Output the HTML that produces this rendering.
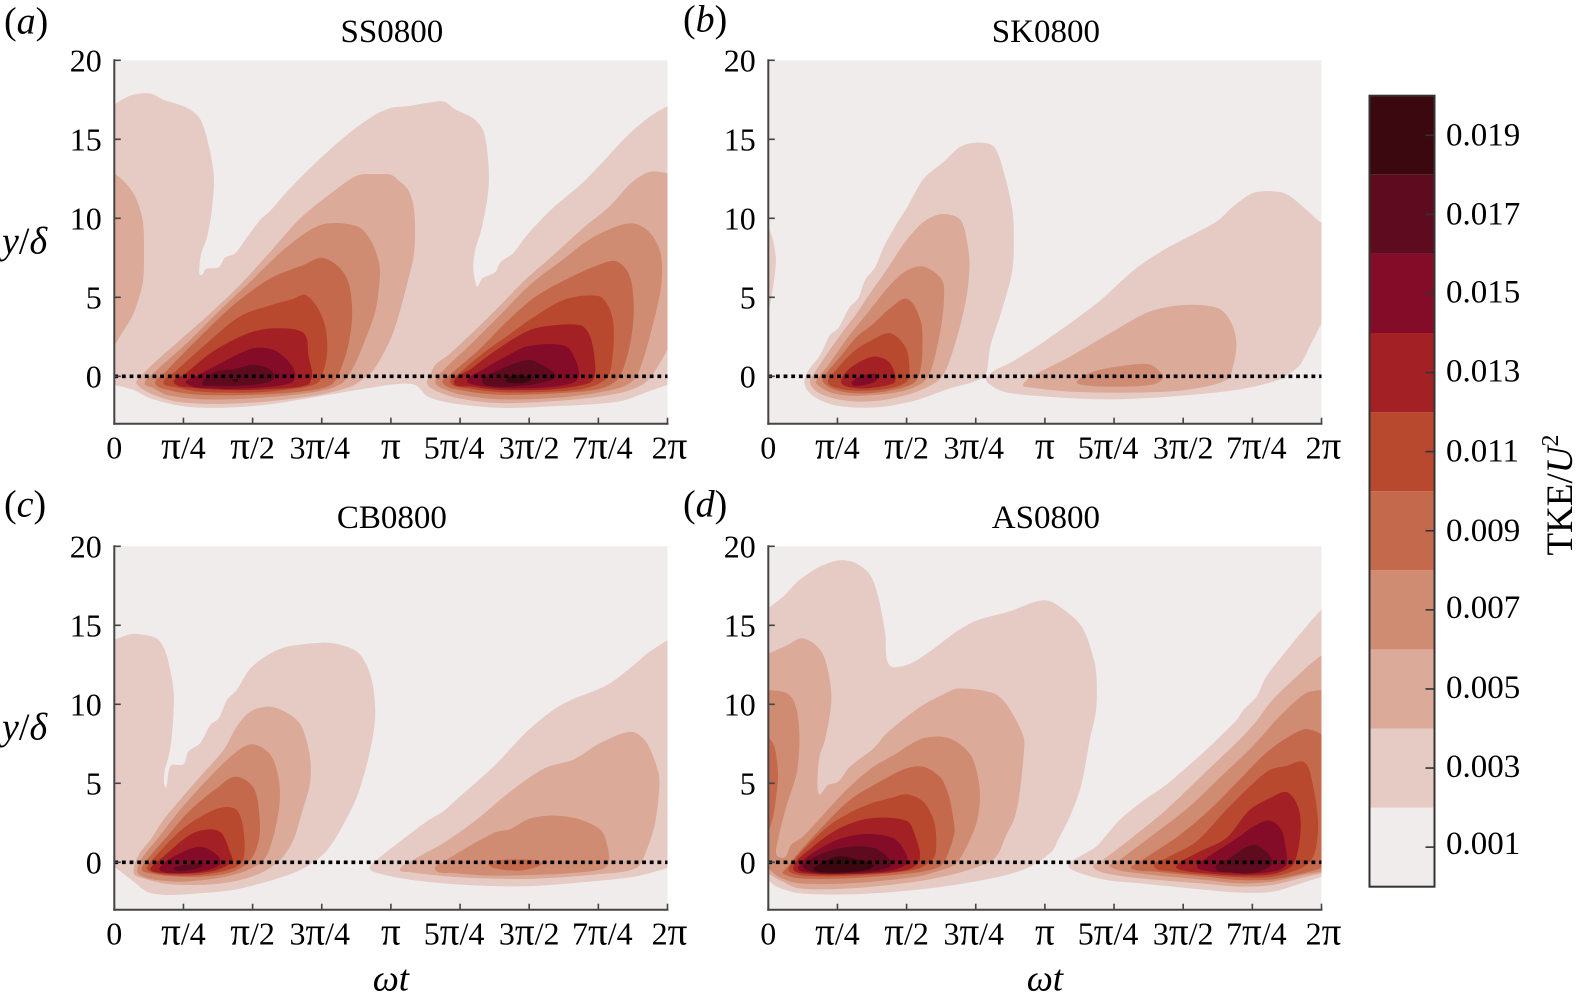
<!DOCTYPE html>
<html lang="en">
<head>
<meta charset="utf-8">
<title>TKE contour panels</title>
<style>
html,body{margin:0;padding:0;background:#fff;}
svg{display:block;font-family:"Liberation Serif",serif;fill:#000;}
</style>
</head>
<body>
<svg id="figure" xmlns="http://www.w3.org/2000/svg" width="1583" height="1003" viewBox="0 0 1583 1003"></svg>
<script>
// x values are in units of pi/4 (0..8); y values are y/delta. Each contour: [level, x,y, x,y, ...]
const xTickValues = [0,1,2,3,4,5,6,7,8];
const xTickLabels = ["0","π/4","π/2","3π/4","π","5π/4","3π/2","7π/4","2π"];
const yTickValues = [0,5,10,15,20];
const levelValues = [0.001,0.003,0.005,0.007,0.009,0.011,0.013,0.015,0.017,0.019];
const levelLabels = ["0.001","0.003","0.005","0.007","0.009","0.011","0.013","0.015","0.017","0.019"];
const levelColors = ["#f0ecec","#e6cbc5","#dbaa99","#cf8c72","#c5694d","#b8482e","#a32024","#840c28","#5e0b1f","#3c0810"];

const contoursSS = [
[1, 0,17.2,.25,17.8,.52,17.9,.71,17.5,1.05,17,1.24,16.3,1.36,14.7,1.44,12.6,1.41,10.5,1.34,8.8,1.26,7.8,1.23,6.9,1.25,6.4,1.33,6.8,1.51,6.9,1.6,7.5,1.75,7.8,1.92,8.8,2.11,9.9,2.26,10.5,2.5,11.7,2.79,13,3.03,14,3.37,15.3,3.75,16.5,4.01,17,4.25,17.1,4.52,17.3,4.76,17.4,4.93,16.9,5.2,16.3,5.34,15.5,5.41,13.5,5.41,11.8,5.32,9.5,5.22,8,5.19,6.9,5.22,6,5.25,5.7,5.32,6.2,5.51,6.6,5.58,7.2,5.77,7.8,5.89,8.5,6.04,9.3,6.33,10.6,6.76,12.2,7.05,13.5,7.39,15.1,7.73,16.4,8,17.1,8,-.55,7.78,-.87,7.29,-1.6,6.33,-1.9,5.61,-2,4.88,-1.7,4.54,-1.3,4.35,-.55,4.06,-.5,3.66,-.76,2.93,-1.3,2.2,-1.8,1.48,-2,1,-1.9,.52,-1.4,.28,-.87,0,-.55],
[2, 0,12.85,.15,12.3,.3,11.4,.41,9.9,.43,7.6,.41,5.9,.28,4,.08,2.5,0,1.9],
[2, .32,-.44,.4,.08,.57,.82,.95,2.3,1.39,4,1.82,5.8,2.26,7.9,2.69,10,3.17,11.7,3.51,12.7,3.8,12.8,4,12.75,4.11,12.4,4.25,11.8,4.33,10.7,4.35,9,4.33,7.6,4.25,6.1,4.16,4.6,4.01,2.5,3.75,.4,3.58,-.23,3.42,-.65,2.93,-1.2,2.2,-1.6,1.48,-1.75,.9,-1.6,.52,-1.08],
[3, .44,-.44,.59,.3,1.05,2.1,1.58,4.4,1.97,6,2.5,8.2,3,9.6,3.51,9.5,3.71,8.6,3.83,7.15,3.84,6.3,3.78,4.2,3.61,2.1,3.46,.6,3.29,-.44,2.93,-.97,1.97,-1.4,1.24,-1.45,.76,-1.18,.57,-.76],
[4, .59,-.44,.73,.23,1.19,2.3,1.72,4.5,2.26,6.2,2.74,7.05,3,7.5,3.25,6.9,3.39,5.9,3.44,4,3.39,2.1,3.27,.4,3.13,-.55,2.69,-.97,1.97,-1.18,1.24,-1.18,.81,-.9],
[5, .71,-.4,.88,.3,1.34,2.1,1.82,3.8,2.26,4.5,2.59,4.9,2.76,5.15,2.93,4.4,3.05,3.15,3.08,1.67,3.03,.4,2.93,-.44,2.45,-.87,1.97,-1.03,1.24,-.97,.9,-.7],
[6, .86,-.4,1.02,.15,1.39,1.46,1.72,2.3,2.01,2.83,2.35,3.04,2.74,2.72,2.81,1.25,2.86,.08,2.79,-.55,2.21,-.82,1.72,-.87,1.14,-.72],
[7, 1.04,-.44,1.22,.08,1.58,.93,2.01,1.77,2.3,1.67,2.52,.93,2.62,.08,2.55,-.44,1.97,-.76,1.43,-.76],
[8, 1.27,-.44,1.48,.3,1.72,.44,2.01,.72,2.26,.4,2.31,-.13,2.16,-.44,1.82,-.6,1.43,-.6],
[9, 1.72,-.2,1.78,-.2,1.78,-.35,1.72,-.35],
[2, 4.52,-.44,4.57,.08,4.64,.72,4.83,1.35,5.17,2.72,5.56,4.4,5.94,6.1,6.33,7.6,6.81,9.5,7.15,10.7,7.49,12.3,7.75,12.95,8,12.85,8,1.67,7.78,.08,7.63,-.55,7.29,-1.08,6.57,-1.5,5.61,-1.7,4.98,-1.4,4.64,-.9],
[3, 4.64,-.34,4.76,.4,5.12,1.88,5.51,3.57,6.04,5.9,6.48,7.36,6.86,8.63,7.25,9.47,7.51,9.68,7.73,9.16,7.87,8.2,7.92,7.15,7.9,5.46,7.78,3.14,7.63,.82,7.51,-.23,7.29,-.76,6.57,-1.29,5.61,-1.46,5.03,-1.18,4.74,-.76],
[4, 4.75,-.44,4.88,.19,5.27,1.67,5.7,3.57,6.09,5.04,6.52,6.1,7,7.05,7.24,7.3,7.41,6.73,7.49,5.68,7.51,3.78,7.44,1.67,7.29,-.13,7.05,-.76,6.57,-1.03,5.61,-1.18,5.08,-.93],
[5, 4.86,-.4,5,.23,5.36,1.56,5.7,2.6,6.04,3.67,6.52,4.87,7,5.08,7.15,4.4,7.22,3.14,7.2,1.03,7.12,-.13,6.81,-.76,6.33,-.97,5.61,-1.01,5.12,-.76],
[6, 4.91,-.4,5.17,.5,5.56,1.77,5.99,2.89,6.28,3.19,6.74,3.23,6.86,2.72,6.93,1.67,6.95,.08,6.86,-.44,6.33,-.82,5.61,-.87,5.17,-.65],
[7, 5.1,-.27,5.36,.5,5.7,1.35,5.99,1.92,6.52,1.92,6.67,1.03,6.72,.08,6.64,-.4,6.23,-.7,5.61,-.76,5.22,-.55],
[8, 5.32,-.34,5.51,.3,5.99,1.03,6.23,.61,6.38,.08,6.33,-.23,5.99,-.55,5.56,-.65],
[9, 5.66,-.23,5.85,.08,6.02,-.13,5.99,-.34,5.8,-.44]
];

const contoursSK = [
[1, 0,9.5,.07,8.6,.11,7.35,.07,5.67,0,4],
[1, .52,-.34,.57,.3,.75,1.35,.89,2.6,1.01,3.04,1.18,4.4,1.3,4.94,1.4,6.1,1.55,6.94,1.67,8.2,1.86,9.68,2,10.63,2.25,12.53,2.54,13.59,2.78,14.54,3.02,14.79,3.26,14.54,3.41,12.85,3.53,10.53,3.55,9.05,3.53,6.73,3.38,4.2,3.21,1.88,3.14,.08,2.97,-.34,2.63,-.76,2.15,-1.5,1.67,-1.92,1.28,-1.98,.94,-1.81,.7,-1.39,.56,-.86],
[2, .6,-.34,.68,.3,.89,1.67,1.06,2.72,1.28,3.99,1.47,5.25,1.71,6.73,1.98,8.52,2.25,9.79,2.51,10.27,2.77,9.94,2.87,8.63,2.91,6.94,2.85,4.62,2.66,1.46,2.49,-.13,2.15,-.97,1.67,-1.5,1.28,-1.6,.94,-1.39,.7,-.97],
[3, .69,-.34,.87,.72,1.14,2.4,1.47,4.2,1.74,5.68,2,6.69,2.25,6.94,2.51,6.1,2.54,4.83,2.49,2.93,2.37,.61,2.25,-.34,1.91,-.97,1.28,-1.24,.94,-1.08,.76,-.7],
[4, .79,-.34,.84,.19,1.04,1.24,1.28,2.51,1.5,3.25,1.76,4.3,2.01,4.89,2.2,3.57,2.23,2.09,2.2,.4,2.1,-.44,1.67,-.97,1.28,-1.08,.97,-.86],
[5, .86,-.4,.94,.19,1.23,1.56,1.5,2.3,1.76,2.72,1.98,1.88,2.04,.61,2,-.34,1.67,-.82,1.28,-.91,1.01,-.76],
[6, 1.05,-.34,1.18,.51,1.51,1.24,1.74,.93,1.84,-.02,1.81,-.44,1.43,-.76,1.14,-.65],
[7, 1.21,-.34,1.38,.08,1.59,.08,1.54,-.34,1.38,-.55,1.23,-.59],
[1, 3.15,-.13,3.28,.4,3.49,.82,4.02,2.3,4.75,4.62,5.32,6.84,5.76,8.1,6.48,9.79,6.72,10.74,7,11.58,7.25,11.73,7.49,11.54,7.73,10.74,7.97,9.79,8,9.75,8,3.35,7.83,1.88,7.69,.72,7.54,.19,7.39,-.23,6.77,-.86,5.8,-1.29,4.84,-1.46,3.88,-1.24,3.4,-.97,3.18,-.44],
[2, 3.68,-.55,3.85,.08,4.36,1.24,4.94,2.72,5.49,4.05,6,4.51,6.51,4.3,6.7,3.35,6.77,2.09,6.72,.61,6.63,-.23,6.05,-.86,5.32,-1.03,4.36,-.97,3.78,-.7],
[3, 4.46,-.34,4.7,.3,5.04,.61,5.49,.78,5.64,.4,5.71,-.13,5.52,-.55,4.94,-.65,4.55,-.55]
];

const contoursCB = [
[1, 0,14.07,.25,14.45,.52,14.32,.64,14.07,.73,13.44,.81,12.17,.86,10.7,.85,9,.82,7.53,.78,6.58,.73,5.84,.72,5,.75,4.75,.78,5.63,.83,6.16,1,6.2,1.07,7,1.24,7.53,1.39,8.69,1.51,9.11,1.63,10.27,1.77,10.91,1.97,12.28,2.26,13.23,2.5,13.65,3,13.9,3.22,13.82,3.51,13.33,3.66,12.38,3.75,10.91,3.77,9,3.68,6.69,3.51,4.16,3.27,2.05,3.08,.78,2.88,0,2.64,-.59,2.21,-1.22,1.72,-1.75,1.24,-1.96,.76,-2.07,.47,-1.86,.28,-1.22,0,-.27],
[2, .28,-.7,.35,.46,.52,1.41,.71,2.68,.95,3.95,1.24,5.42,1.58,7.11,1.77,8.59,1.97,9.54,2.26,9.85,2.55,9.32,2.71,8.59,2.83,6.69,2.83,5,2.71,3.1,2.59,1.41,2.4,.15,2.11,-.7,1.72,-1.22,1.24,-1.43,.76,-1.37,.42,-1.01],
[3, .33,-.59,.4,.25,.61,1.41,.95,3.31,1.34,5.21,1.75,6.94,2,7.47,2.26,6.79,2.38,5.21,2.39,3.73,2.3,1.62,2.16,.15,1.87,-.59,1.48,-1.01,1,-1.22,.61,-1.12,.42,-.91],
[4, .4,-.49,.47,.15,.76,1.62,1.1,3.31,1.48,4.68,1.75,5.42,2.01,4.75,2.1,2.89,2.09,1.41,1.97,.15,1.72,-.59,1.24,-.91,.76,-.86,.52,-.7],
[5, .47,-.38,.57,.25,1,2.15,1.48,3.38,1.75,3.38,1.86,2.26,1.87,.25,1.72,-.38,1.24,-.8,.76,-.8,.52,-.59],
[6, .52,-.38,.71,.36,1.14,1.84,1.51,1.98,1.68,.57,1.7,.04,1.48,-.49,1.14,-.7,.76,-.7,.56,-.59],
[7, .65,-.38,.81,.25,1.24,.99,1.51,.36,1.52,-.17,1.24,-.59,.84,-.7,.69,-.59],
[8, .85,-.38,1,-.17,1.24,-.1,1.27,-.27,1.1,-.49,.93,-.55],
[1, 3.69,-.36,3.8,.17,4.04,1.01,4.52,2.6,4.76,3.23,5,4.18,5.49,6.08,5.97,8.29,6.35,9.66,6.62,10.3,7.12,11.2,7.49,12.4,7.7,13.2,8,14.05,8,-.36,7.55,-.89,6.93,-1.2,5.97,-1.52,5,-1.41,4.28,-1.1,3.8,-.68],
[2, 4.13,-.46,4.33,.17,4.76,1.22,5.24,2.7,5.73,4.49,6.23,5.97,6.64,6.5,7.03,7.55,7.48,8.25,7.7,7.55,7.87,5.65,7.88,4.6,7.82,2.49,7.7,.8,7.55,-.36,6.93,-.78,5.97,-1.05,5,-.95,4.28,-.63],
[3, 4.64,-.46,4.81,.17,5.49,1.86,5.73,2.11,5.99,2.74,6.26,2.95,6.5,2.91,6.74,2.7,7.03,2.07,7.12,1.22,7.15,-.04,7.03,-.46,6.45,-.72,5.49,-.84,4.91,-.68],
[4, 5.41,-.08,5.53,.13,5.97,.17,6.18,-.04,6.06,-.36,5.82,-.53,5.49,-.36]
];

const contoursAS = [
[1, 0,16.08,.21,16.8,.45,17.87,.74,18.7,1.01,19.1,1.25,18.97,1.47,18.2,1.59,16.8,1.69,14.5,1.75,12.49,2,12.49,2.29,13.2,2.72,14.6,3.01,15.3,3.5,15.9,4,16.58,4.31,15.87,4.55,14.8,4.72,12.6,4.75,11.33,4.74,9.64,4.65,7.74,4.52,4.79,4.36,2.89,4.19,1.41,4.1,.68,3.74,-.38,3.11,-1.12,2.14,-1.75,1.18,-2.03,.45,-1.96,.12,-1.54,0,-1.12],
[2, 0,13.2,.26,13.7,.5,14.18,.77,13.33,.89,11.54,.91,10.06,.82,7.74,.74,6.69,.71,5.2,.72,4.47,.75,4.3,.86,4.89,1.01,5.1,1.18,6.05,1.52,7.2,1.71,8.16,2,9.2,2.24,9.96,2.51,10.59,2.75,11,3.26,10.7,3.45,9.96,3.69,7.95,3.69,6.69,3.62,3.95,3.55,2.68,3.43,1.62,3.33,.57,3.21,.04,2.72,-.7,2.14,-1.22,1.18,-1.65,.45,-1.65,.16,-1.12,0,-.7],
[3, 0,10.9,.24,10.76,.36,10.27,.43,9.2,.45,7.53,.41,5.63,.26,3.52,.14,1.41,.12,.46,.24,.32,.33,1.1,.5,1.62,.99,3.95,1.23,5,1.52,6.05,1.86,6.9,2,7.32,2.24,7.85,2.51,7.95,2.72,7.64,2.94,6.69,3.04,5.21,3.06,3.95,3.01,2.47,2.87,1,2.72,-.06,2.58,-.38,2.14,-.91,1.18,-1.33,.45,-1.33,.16,-.95,0,-.38],
[4, 0,7.95,.09,7.32,.14,5.63,.12,4.37,.07,2.89,0,1.84],
[4, .26,-.38,.41,.46,.74,2.05,1.18,3.95,1.57,5,2,5.95,2.24,6.05,2.48,5.42,2.6,4.37,2.68,2.68,2.69,1.84,2.58,.36,2.48,-.27,2.14,-.65,1.18,-1.01,.45,-1.01,.21,-.7],
[5, .29,-.38,.53,.89,.89,2.36,1.18,3.14,1.49,3.73,1.76,4.05,2,4.3,2.24,3.84,2.39,2.68,2.43,1.41,2.39,.25,2.14,-.44,1.18,-.86,.55,-.86,.33,-.65],
[6, .36,-.38,.62,.89,1.03,2.15,1.47,2.78,2,2.62,2.12,1.73,2.19,.15,2,-.49,1.18,-.76,.6,-.74],
[7, .43,-.38,.6,.46,.99,1.41,1.4,1.79,1.81,1.52,2,.46,1.98,-.17,1.66,-.59,.94,-.74,.55,-.63],
[8, .5,-.17,.79,.57,1.18,.99,1.54,.89,1.76,.15,1.76,-.27,1.42,-.59,.79,-.7,.55,-.49],
[9, .65,-.38,.99,.36,1.28,.19,1.52,-.17,1.42,-.49,.99,-.65,.7,-.59],
[1, 4.34,-.17,4.5,.36,4.74,.99,4.89,1.73,5.08,2.68,5.37,3.73,5.75,4.89,5.95,5.63,6.33,7.11,6.77,9,6.87,9.64,7.06,10.49,7.2,11.75,7.54,13.65,7.82,15.13,8,16,8,-.91,7.78,-1.22,7.29,-1.86,6.81,-1.92,6.33,-1.75,5.37,-1.33,4.89,-1.12,4.45,-.59],
[2, 4.7,-.27,4.84,.15,5.37,1.94,5.75,3.31,6.33,5.74,6.81,7.74,7.05,8.9,7.29,10.27,7.77,12.28,8,13.1,8,-.7,7.78,-.91,7.29,-1.43,6.81,-1.54,6.33,-1.37,5.37,-1.01,4.89,-.7],
[3, 4.94,-.27,5.08,.15,5.56,1.73,6.09,3.52,6.57,5.53,7,7.32,7.39,9.22,7.77,10.7,8,10.9,8,-.6,7.73,-.8,7.29,-1.22,6.81,-1.33,6.33,-1.12,5.37,-.7],
[4, 5.25,-.38,5.37,.04,5.95,1.73,6.43,3.52,6.81,5.21,7.25,7.11,7.75,8.42,8,8.1,8,-.38,7.73,-.7,7.29,-1.08,6.81,-1.12,6.33,-.91,5.6,-.59],
[5, 5.58,-.27,5.75,.25,6.19,1.31,6.62,3.31,6.96,4.79,7.25,5.84,7.49,6.1,7.75,6.33,7.87,5,7.95,2.47,7.9,.57,7.75,-.27,7.29,-.91,6.81,-.95,6.33,-.8,5.85,-.59],
[6, 5.9,-.27,6.19,.57,6.62,1.52,6.96,3.31,7.25,4.05,7.5,4.43,7.66,3.52,7.7,2.26,7.65,.57,7.56,-.27,7.29,-.74,6.81,-.84,6.33,-.7,6.04,-.55],
[7, 6.2,-.27,6.33,.25,6.81,1.62,7,2.22,7.25,2.64,7.42,2.05,7.47,1.2,7.5,-.06,7.39,-.49,7.05,-.7,6.57,-.65,6.33,-.53],
[8, 6.47,-.38,6.67,.25,7,1.1,7.2,.68,7.28,.15,7.25,-.27,7,-.7,6.72,-.65]
];

const SVGNS = "http://www.w3.org/2000/svg";
const root = document.getElementById("figure");

function make(tag, attrs, parent) {
  const el = document.createElementNS(SVGNS, tag);
  for (const k in attrs) el.setAttribute(k, attrs[k]);
  (parent || root).appendChild(el);
  return el;
}

function contourPath(flat, xs, ys) {
  const pts = [], onEdge = [];
  for (let i = 1; i < flat.length; i += 2) {
    pts.push([xs(flat[i]), ys(flat[i + 1])]);
    onEdge.push(flat[i] <= 0 || flat[i] >= 8);
  }
  const n = pts.length;
  const tangent = (a, b) => {
    const dx = b[0] - a[0], dy = b[1] - a[1], len = Math.hypot(dx, dy) || 1;
    return [dx / len, dy / len];
  };
  let d = "M" + pts[0][0].toFixed(1) + " " + pts[0][1].toFixed(1);
  for (let i = 0; i < n; i++) {
    const i0 = (i - 1 + n) % n, i2 = (i + 1) % n, i3 = (i + 2) % n;
    const p0 = pts[i0], p1 = pts[i], p2 = pts[i2], p3 = pts[i3];
    const chord = Math.hypot(p2[0] - p1[0], p2[1] - p1[1]) * 0.3;
    const t1 = onEdge[i] ? [0, 0] : tangent(p0, p2);
    const t2 = onEdge[i2] ? [0, 0] : tangent(p1, p3);
    d += "C" + (p1[0] + t1[0] * chord).toFixed(1) + " " + (p1[1] + t1[1] * chord).toFixed(1) + " " +
         (p2[0] - t2[0] * chord).toFixed(1) + " " + (p2[1] - t2[1] * chord).toFixed(1) + " " +
         p2[0].toFixed(1) + " " + p2[1].toFixed(1);
  }
  return d + "Z";
}

function drawPanel(cfg) {
  const xs = v => cfg.left + v * 69.15;
  const ys = v => cfg.zero - v * 15.8;
  const right = xs(8), top = ys(20), bottom = ys(-3);

  const g = make("g", {});
  
  

  const clip = make("clipPath", {id: "clip-" + cfg.key}, g);
  make("rect", {x: cfg.left, y: top, width: right - cfg.left, height: bottom - top}, clip);

  const bg = make("rect", {x: cfg.left, y: top, width: right - cfg.left, height: bottom - top, fill: levelColors[0]}, g);
  
  

  const field = make("g", {"clip-path": "url(#clip-" + cfg.key + ")"}, g);
  
  
  const ordered = cfg.contours.slice().sort((a, b) => a[0] - b[0]);
  ordered.forEach(c => {
    const path = make("path", {d: contourPath(c, xs, ys), fill: levelColors[c[0]]}, field);
    
    
  });

  const zeroLine = make("line", {x1: xs(0), x2: right, y1: ys(0), y2: ys(0), stroke: "#000", "stroke-width": 3.7, "stroke-dasharray": "3.8 3.85"}, g);
  
  

  const yAxis = make("line", {x1: cfg.left, x2: cfg.left, y1: top - 1, y2: bottom + 1, stroke: "#444", "stroke-width": 2}, g);
  
  
  const xAxis = make("line", {x1: cfg.left - 1, x2: right + 1, y1: bottom, y2: bottom, stroke: "#444", "stroke-width": 2}, g);
  
  

  yTickValues.forEach(v => {
    const t = make("line", {x1: cfg.left, x2: cfg.left + 6.5, y1: ys(v), y2: ys(v), stroke: "#444", "stroke-width": 1.6}, g);
    
    
    const l = make("text", {x: cfg.left - 12.5, y: ys(v) + 11, "text-anchor": "end", "font-size": 32}, g);
    
    
    l.textContent = String(v);
  });

  const xLabelNudge = [0,0,0,-2,0,-6,0,4,2];
  xTickValues.forEach((v, i) => {
    const t = make("line", {x1: xs(v), x2: xs(v), y1: bottom, y2: bottom - 6, stroke: "#444", "stroke-width": 1.6}, g);
    
    
    const l = make("text", {x: xs(v) + xLabelNudge[i], y: bottom + 35, "text-anchor": "middle", "font-size": 32}, g);
    
    
    xTickLabels[i].split(/(π)/).forEach(part => {
      if (part === "π") {
        const pi = make("tspan", {"font-size": 39}, l);
        pi.textContent = part;
      } else if (part) {
        l.appendChild(document.createTextNode(part));
      }
    });
  });

  const title = make("text", {x: (cfg.left + right) / 2 + 1, y: cfg.zero - 334.5, "text-anchor": "middle", "font-size": 33}, g);
  
  
  title.textContent = cfg.title;

  const tag = make("text", {x: cfg.tagX, y: cfg.zero - 346 + cfg.tagDy, "font-size": 38}, g);
  
  
  tag.appendChild(document.createTextNode("("));
  const tagLetter = make("tspan", {"font-style": "italic"}, tag);
  tagLetter.textContent = cfg.letter;
  tag.appendChild(document.createTextNode(")"));

  if (cfg.yLabel) {
    const yl = make("text", {x: 2, y: cfg.zero - 123, "font-size": 38}, g);
    
    
    const a = make("tspan", {"font-style": "italic"}, yl);
    a.textContent = "y";
    yl.appendChild(document.createTextNode("/"));
    const b = make("tspan", {"font-style": "italic"}, yl);
    b.textContent = "δ";
  }
  if (cfg.xLabel) {
    const xl = make("text", {x: (cfg.left + right) / 2, y: bottom + 81, "text-anchor": "middle", "font-size": 37}, g);
    
    
    const a = make("tspan", {"font-style": "italic"}, xl);
    a.textContent = "ωt";
  }
}

drawPanel({key: "ss", title: "SS0800", letter: "a", tagX: 4, tagDy: 3, left: 114.3, zero: 376.3, contours: contoursSS, yLabel: true, xLabel: false});
drawPanel({key: "sk", title: "SK0800", letter: "b", tagX: 683, tagDy: 1, left: 768.3, zero: 376.3, contours: contoursSK, yLabel: false, xLabel: false});
drawPanel({key: "cb", title: "CB0800", letter: "c", tagX: 4, tagDy: 0, left: 114.3, zero: 862.3, contours: contoursCB, yLabel: true, xLabel: true});
drawPanel({key: "as", title: "AS0800", letter: "d", tagX: 683, tagDy: 0, left: 768.3, zero: 862.3, contours: contoursAS, yLabel: false, xLabel: true});

// Colour bar
const cbLeft = 1369.5, cbRight = 1434.5, cbTop = 95.7, cbBottom = 886.7;
const cbY = v => cbBottom - v / 0.02 * (cbBottom - cbTop);
const cbLabelNudge = [-4,-2,-2,-3,-1,-1,-2,-2,-1,-1];
const cbGroup = make("g", {});


levelValues.forEach((v, i) => {
  const swatch = make("rect", {x: cbLeft, width: cbRight - cbLeft, y: cbY(v + 0.001), height: cbY(v - 0.001) - cbY(v + 0.001), fill: levelColors[i]}, cbGroup);
  
  
  const tick = make("line", {x1: cbRight - 9, x2: cbRight, y1: cbY(v), y2: cbY(v), stroke: "#333", "stroke-width": 1.6}, cbGroup);
  
  
  const label = make("text", {x: 1446, y: cbY(v) + 11 + cbLabelNudge[i], "font-size": 33}, cbGroup);
  
  
  label.textContent = levelLabels[i];
});
const cbFrame = make("rect", {x: cbLeft, y: cbTop, width: cbRight - cbLeft, height: cbBottom - cbTop, fill: "none", stroke: "#333", "stroke-width": 2}, cbGroup);


const cbTitle = make("text", {transform: "translate(1572 495) rotate(-90)", "text-anchor": "middle", "font-size": 37}, cbGroup);


cbTitle.appendChild(document.createTextNode("TKE/"));
const cbU = make("tspan", {"font-style": "italic"}, cbTitle);
cbU.textContent = "U";
const cbSup = make("tspan", {dy: -14, "font-size": 24}, cbTitle);
cbSup.textContent = "2";
</script>
</body>
</html>
